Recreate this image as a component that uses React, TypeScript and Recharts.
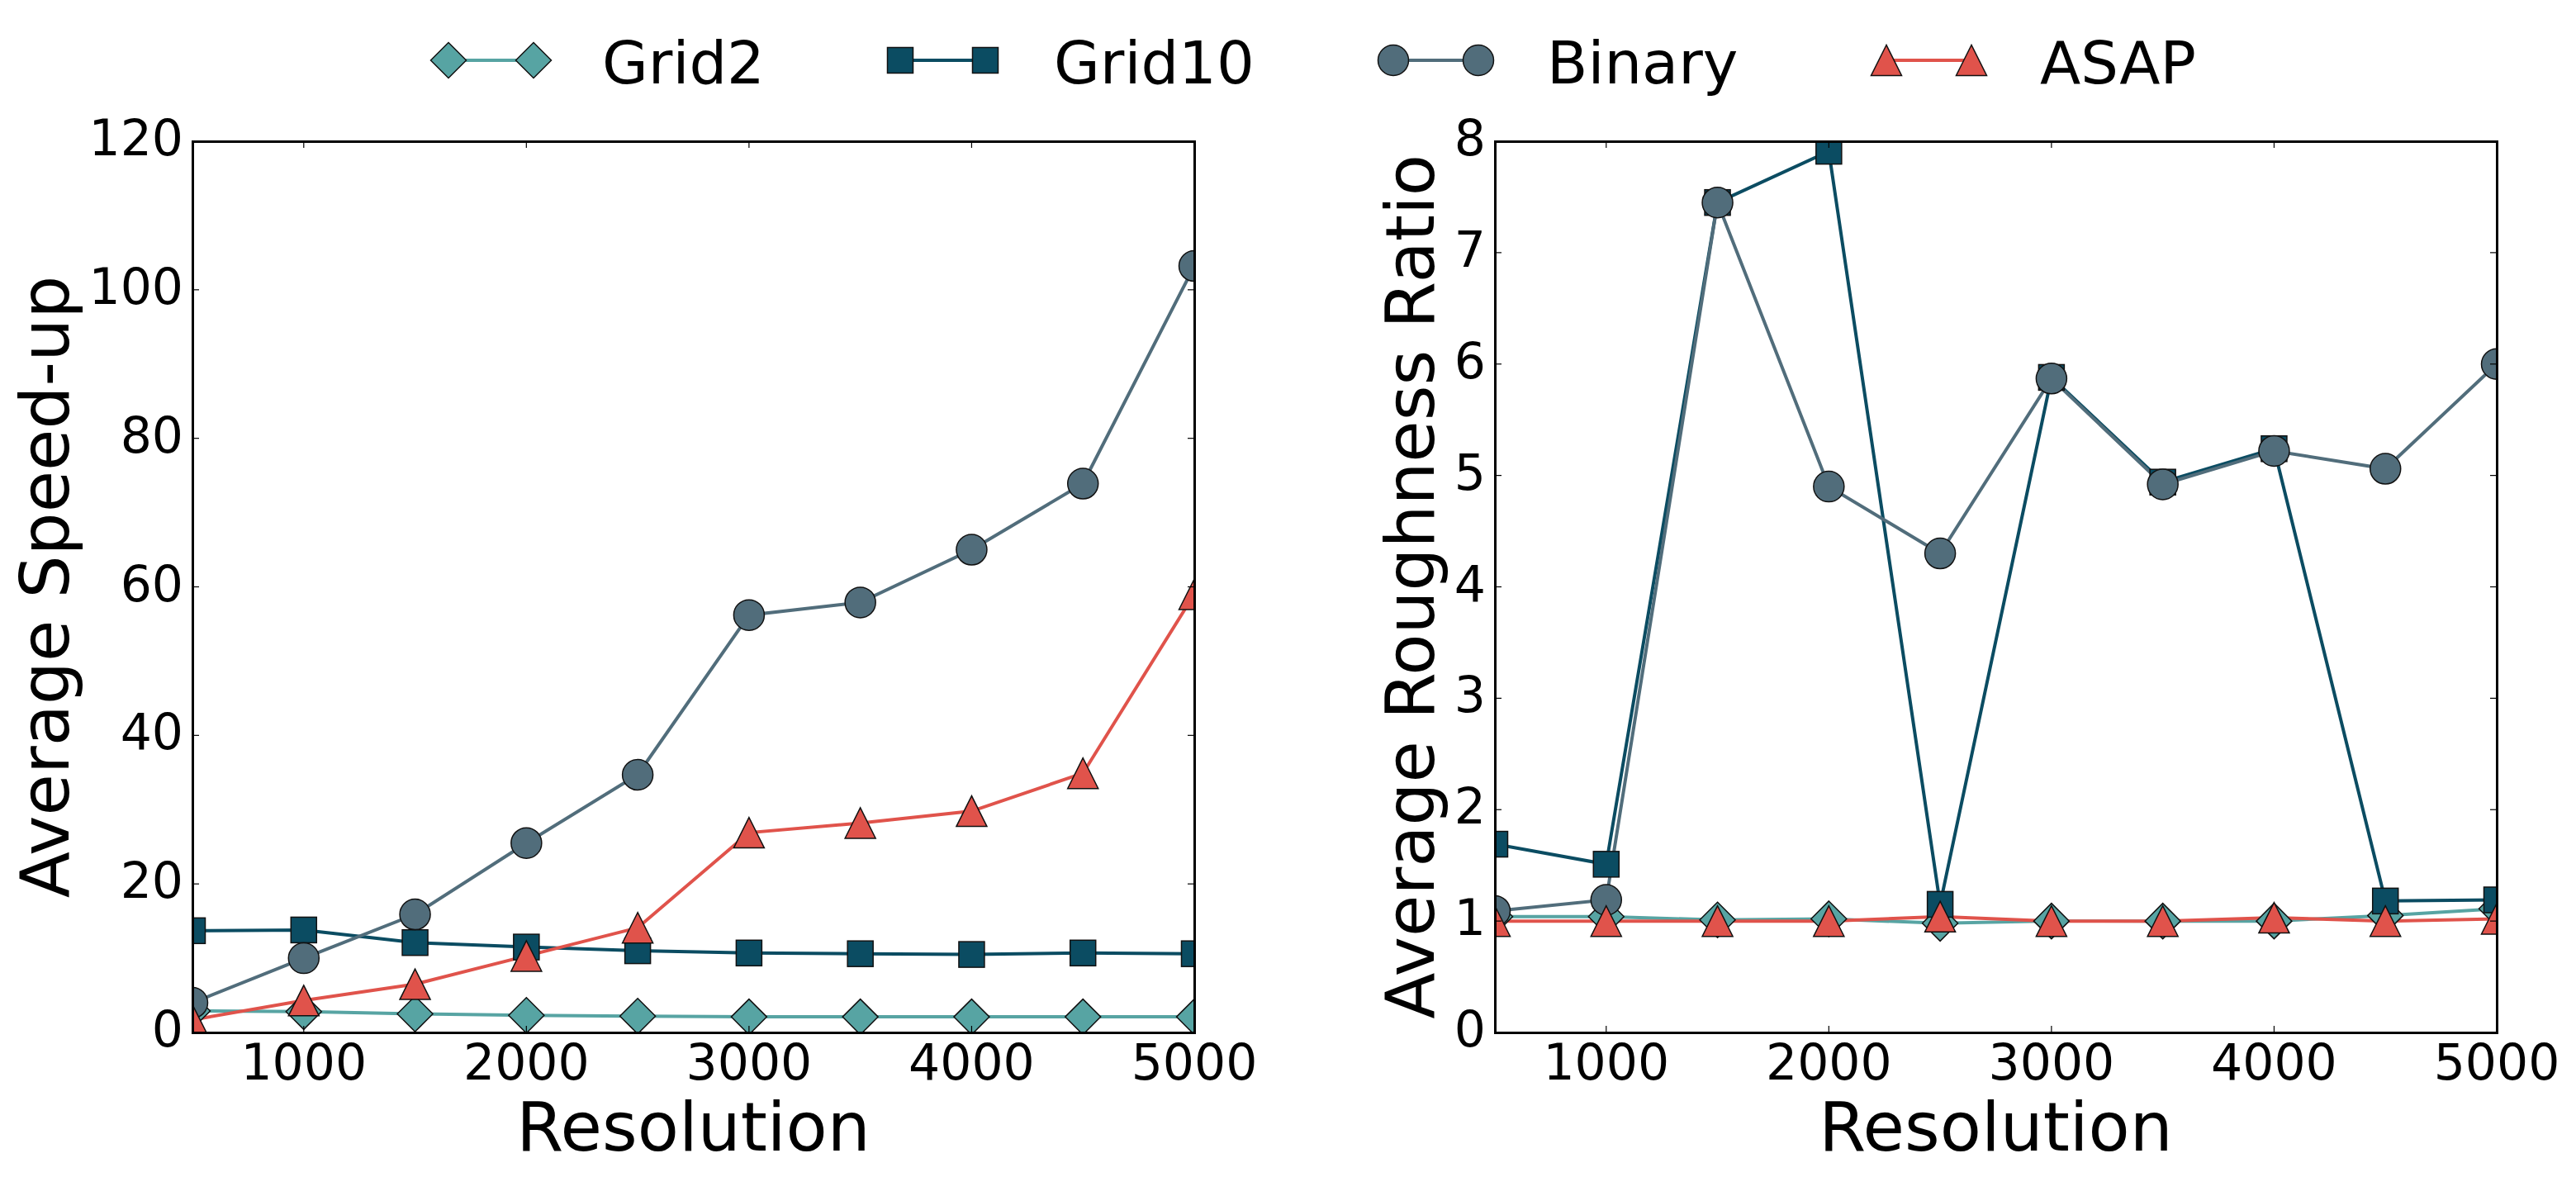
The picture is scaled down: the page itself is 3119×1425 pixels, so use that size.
import React from "react";
import { LineChart, Line, XAxis, YAxis } from "recharts";

// resolutions tested
const resolution = [500, 1000, 1500, 2000, 2500, 3000, 3500, 4000, 4500, 5000];

// average speed-up
const speedGrid2 = [2.9, 2.8, 2.5, 2.3, 2.2, 2.1, 2.1, 2.1, 2.1, 2.1];
const speedGrid10 = [13.7, 13.8, 12.1, 11.5, 11.0, 10.7, 10.6, 10.5, 10.7, 10.6];
const speedBinary = [4.0, 10.0, 15.9, 25.5, 34.7, 56.2, 57.9, 65.0, 73.9, 103.2];
const speedAsap = [1.7, 4.3, 6.5, 10.3, 14.1, 26.9, 28.2, 29.8, 34.9, 59.0];

// average roughness ratio
const roughGrid2 = [1.04, 1.04, 1.01, 1.02, 0.98, 1.0, 1.0, 1.0, 1.05, 1.11];
const roughGrid10 = [1.69, 1.51, 7.45, 7.91, 1.15, 5.88, 4.94, 5.24, 1.18, 1.19];
const roughBinary = [1.09, 1.19, 7.45, 4.9, 4.3, 5.87, 4.92, 5.22, 5.06, 6.0];
const roughAsap = [1.0, 1.0, 1.0, 1.0, 1.04, 1.0, 1.0, 1.03, 1.0, 1.02];

const xTicks = [1000, 2000, 3000, 4000, 5000];
const speedTicks = [0, 20, 40, 60, 80, 100, 120];
const roughTicks = [0, 1, 2, 3, 4, 5, 6, 7, 8];

const SERIES = [
  { key: "grid2", name: "Grid2", color: "#57a4a3", shape: "diamond" },
  { key: "grid10", name: "Grid10", color: "#0b4c62", shape: "square" },
  { key: "binary", name: "Binary", color: "#516d7b", shape: "circle" },
  { key: "asap", name: "ASAP", color: "#e0534b", shape: "triangle" },
];

const speedRows = resolution.map((res, i) => ({
  res,
  grid2: speedGrid2[i],
  grid10: speedGrid10[i],
  binary: speedBinary[i],
  asap: speedAsap[i],
}));

const roughRows = resolution.map((res, i) => ({
  res,
  grid2: roughGrid2[i],
  grid10: roughGrid10[i],
  binary: roughBinary[i],
  asap: roughAsap[i],
}));

// layout (px)
const H = 1425;
const CHART_W = 1542;
const PLOT_L = 233;
const PLOT_T = 171;
const PLOT_W = 1213;
const PLOT_H = 1079;
const TICK = 8;
const FONT = "'DejaVu Sans', sans-serif";

function Marker({ shape, cx, cy, fill }: { shape: string; cx: number; cy: number; fill: string }) {
  const edge = { fill, stroke: "#111", strokeWidth: 1.5 };
  if (shape === "circle") return <circle cx={cx} cy={cy} r={18.5} {...edge} />;
  if (shape === "square") return <rect x={cx - 15.5} y={cy - 15.5} width={31} height={31} {...edge} />;
  if (shape === "triangle") {
    const h = 18.5;
    return <polygon points={`${cx},${cy - h} ${cx - h},${cy + h} ${cx + h},${cy + h}`} {...edge} />;
  }
  const d = 21.5;
  return <polygon points={`${cx},${cy - d} ${cx + d},${cy} ${cx},${cy + d} ${cx - d},${cy}`} {...edge} />;
}

// bottom labels plus inward ticks on bottom and top edges
function XTick(p: any) {
  const { x, y, payload } = p;
  return (
    <g key={`xt-${payload.value}`}>
      <line x1={x} x2={x} y1={y} y2={y - TICK} stroke="#000" strokeWidth={1.2} />
      <line x1={x} x2={x} y1={y - PLOT_H} y2={y - PLOT_H + TICK} stroke="#000" strokeWidth={1.2} />
      <text x={x} y={y + 57} textAnchor="middle" fontSize={60} fill="#000" fontFamily={FONT}>
        {payload.value}
      </text>
    </g>
  );
}

// left labels plus inward ticks on left and right edges
function YTick(p: any) {
  const { x, y, payload } = p;
  return (
    <g key={`yt-${payload.value}`}>
      <line x1={x} x2={x + TICK} y1={y} y2={y} stroke="#000" strokeWidth={1.2} />
      <line x1={x + PLOT_W} x2={x + PLOT_W - TICK} y1={y} y2={y} stroke="#000" strokeWidth={1.2} />
      <text x={x - 11} y={y + 17} textAnchor="end" fontSize={60} fill="#000" fontFamily={FONT}>
        {payload.value}
      </text>
    </g>
  );
}

function Panel({
  left, rows, domain, ticks, yLabel, labelOffset,
}: {
  left: number; rows: any[]; domain: [number, number]; ticks: number[]; yLabel: string; labelOffset: number;
}) {
  return (
    <div style={{ position: "absolute", left, top: 0, width: CHART_W, height: H }}>
      <LineChart
        width={CHART_W}
        height={H}
        data={rows}
        margin={{ top: PLOT_T, right: CHART_W - PLOT_L - PLOT_W, bottom: 0, left: 0 }}
      >
        <XAxis
          dataKey="res"
          type="number"
          domain={[500, 5000]}
          ticks={xTicks}
          interval={0}
          allowDataOverflow
          axisLine={false}
          tickLine={false}
          tickSize={0}
          tickMargin={0}
          height={H - PLOT_T - PLOT_H}
          tick={XTick}
          label={{ value: "Resolution", position: "insideBottom", offset: 32, fontSize: 82, fill: "#000", fontFamily: FONT }}
        />
        <YAxis
          type="number"
          domain={domain}
          ticks={ticks}
          interval={0}
          allowDataOverflow
          axisLine={false}
          tickLine={false}
          tickSize={0}
          tickMargin={0}
          width={PLOT_L}
          tick={YTick}
          label={{
            value: yLabel,
            angle: -90,
            position: "insideLeft",
            offset: labelOffset,
            fontSize: 82,
            fill: "#000",
            fontFamily: FONT,
            style: { textAnchor: "middle" },
          }}
        />
        {SERIES.map((s) => (
          <Line
            key={s.key}
            type="linear"
            dataKey={s.key}
            name={s.name}
            stroke={s.color}
            strokeWidth={4}
            dot={(d: any) => (
              <Marker key={`${s.key}-${d.index}`} shape={s.shape} cx={d.cx} cy={d.cy} fill={s.color} />
            )}
            activeDot={false}
            isAnimationActive={false}
          />
        ))}
      </LineChart>
      <div
        style={{
          position: "absolute",
          left: PLOT_L - 1.5,
          top: PLOT_T - 1.5,
          width: PLOT_W + 3,
          height: PLOT_H + 3,
          boxSizing: "border-box",
          border: "3px solid #000",
          pointerEvents: "none",
        }}
      />
    </div>
  );
}

const legendX = [543, 1090, 1687, 2284];

function LegendRow() {
  const cy = 73;
  return (
    <svg width={3119} height={150} style={{ position: "absolute", left: 0, top: 0 }}>
      {SERIES.map((s, i) => {
        const x0 = legendX[i];
        return (
          <g key={s.key}>
            <line x1={x0} x2={x0 + 103} y1={cy} y2={cy} stroke={s.color} strokeWidth={4} />
            <Marker shape={s.shape} cx={x0} cy={cy} fill={s.color} />
            <Marker shape={s.shape} cx={x0 + 103} cy={cy} fill={s.color} />
            <text x={x0 + 186} y={cy + 28} fontSize={72} fill="#000" fontFamily={FONT}>
              {s.name}
            </text>
          </g>
        );
      })}
    </svg>
  );
}

export default function App() {
  return (
    <div
      style={{
        position: "absolute",
        left: 0,
        top: 0,
        width: 3119,
        height: H,
        background: "#fff",
        fontFamily: FONT,
      }}
    >
      <Panel left={0} rows={speedRows} domain={[0, 120]} ticks={speedTicks} yLabel="Average Speed-up" labelOffset={54} />
      <Panel left={1577} rows={roughRows} domain={[0, 8]} ticks={roughTicks} yLabel="Average Roughness Ratio" labelOffset={130} />
      <LegendRow />
    </div>
  );
}
